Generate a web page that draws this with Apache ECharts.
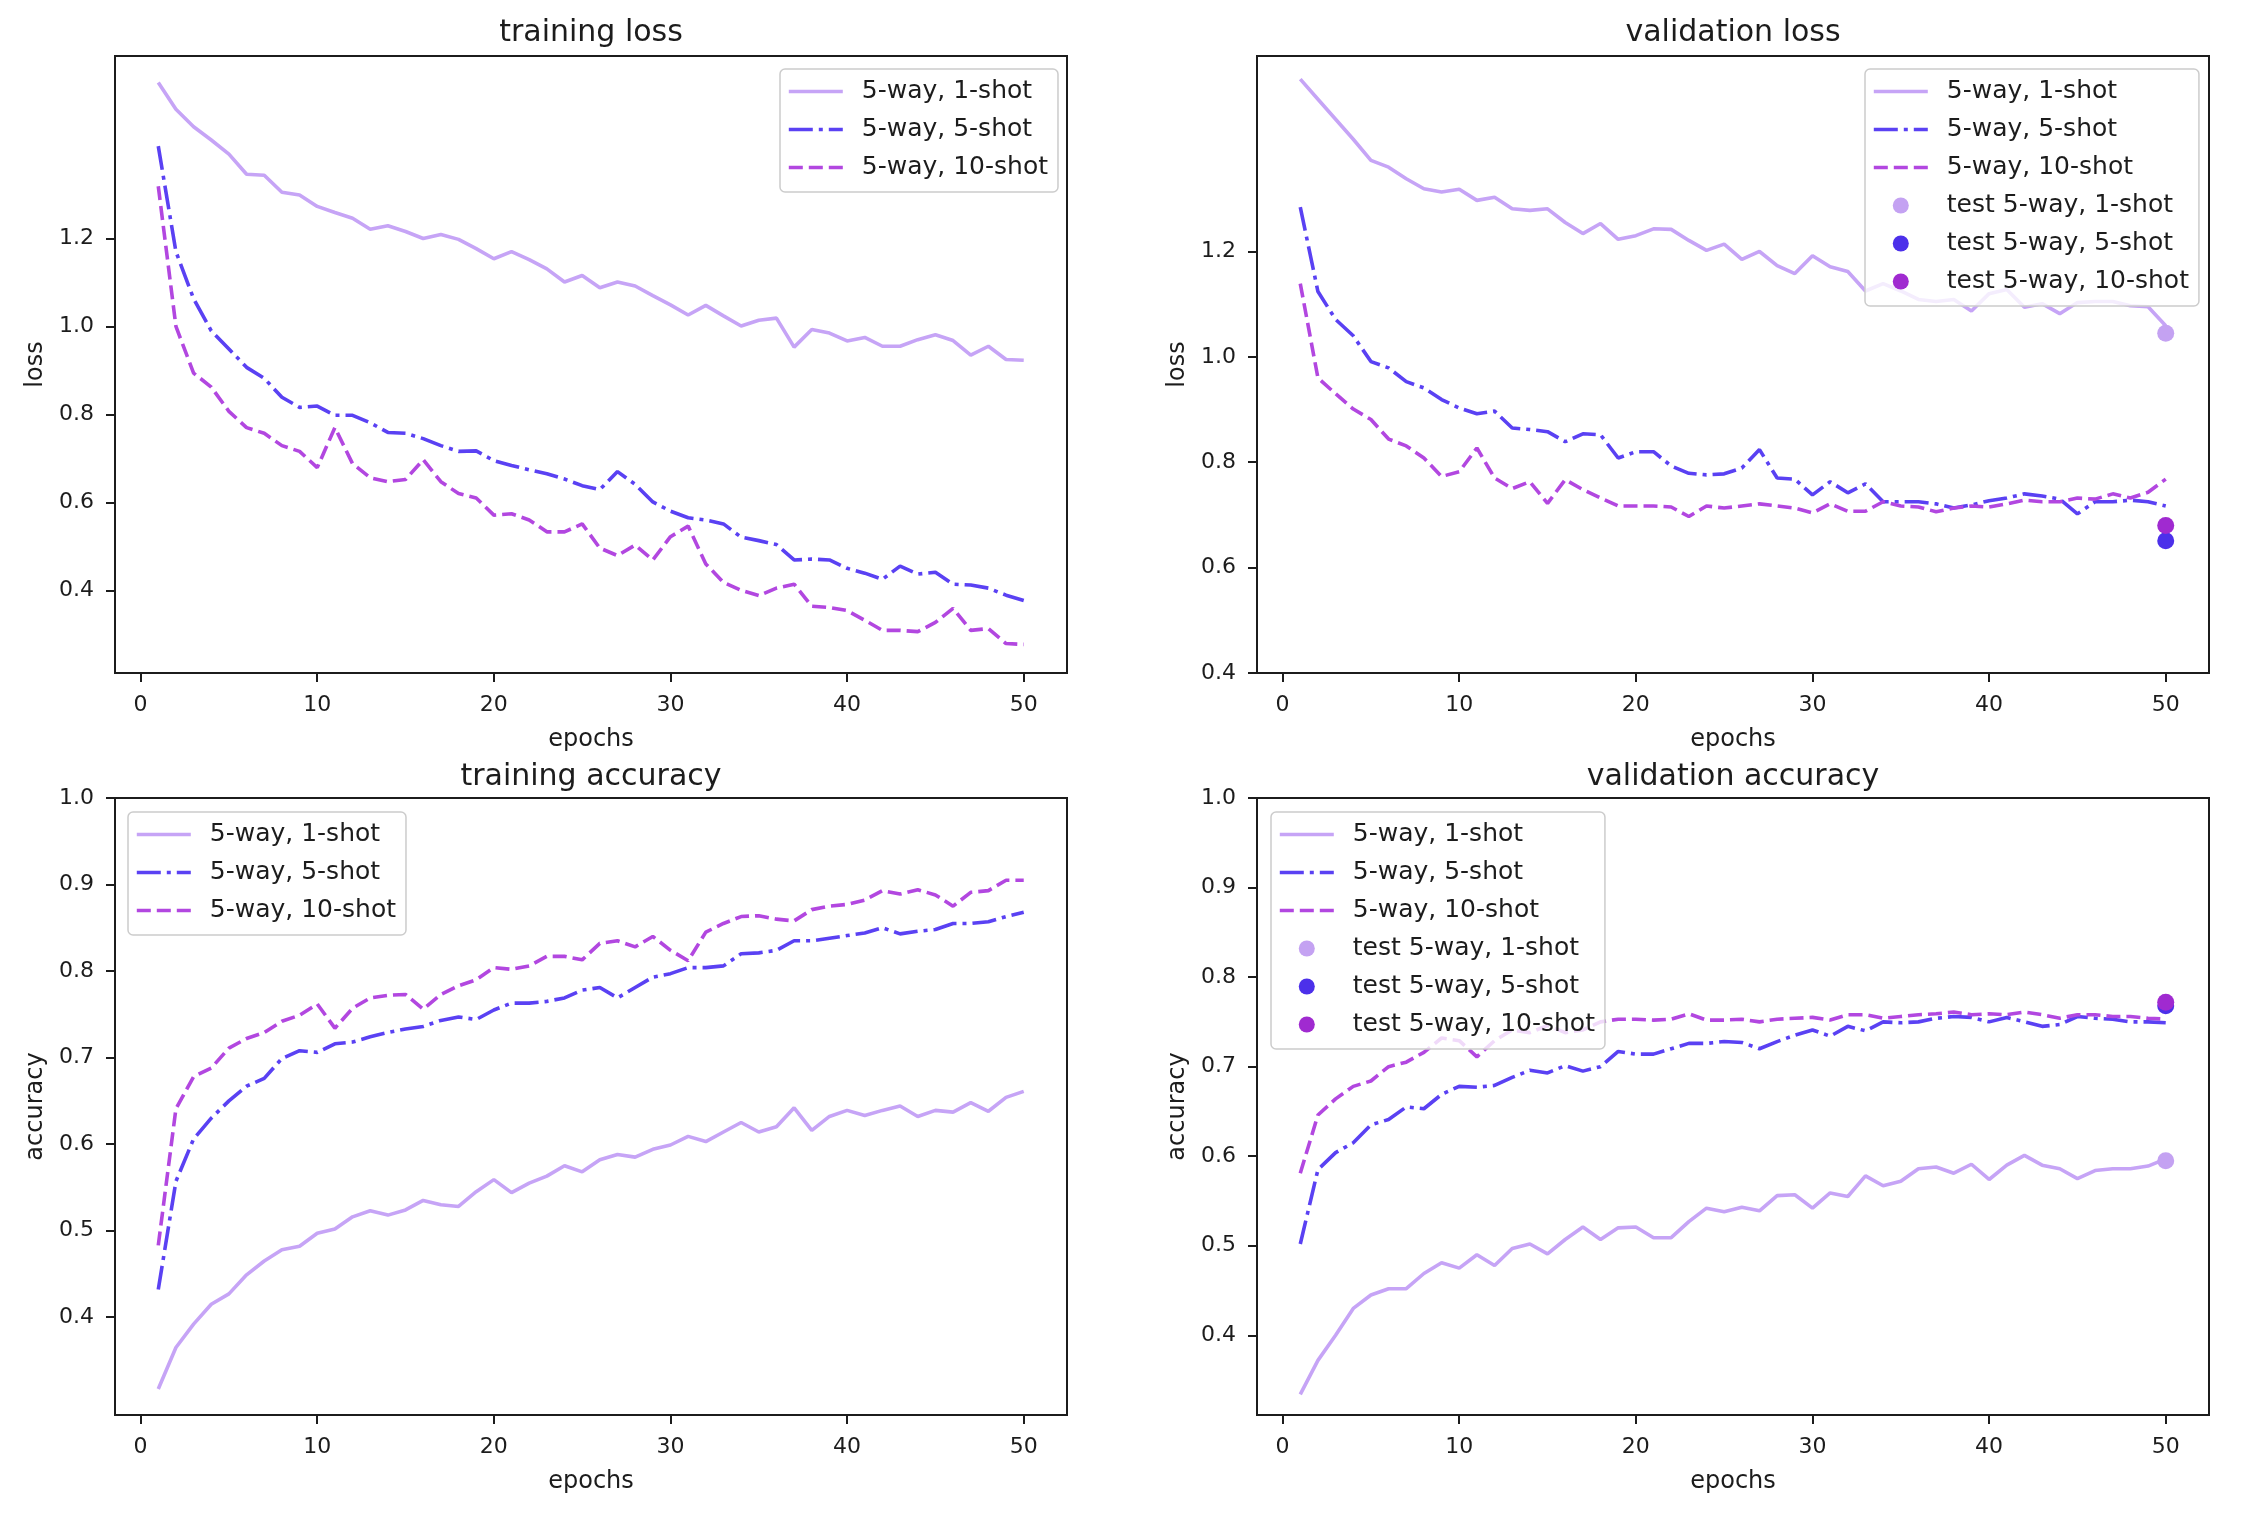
<!DOCTYPE html>
<html>
<head>
<meta charset="utf-8">
<script src="https://cdn.jsdelivr.net/npm/echarts@6/dist/echarts.min.js"></script>
<style>
html,body{margin:0;padding:0;background:#fff;}
#c{width:2244px;height:1526px;}
</style>
</head>
<body>
<div id="c"></div>
<script>
// ---------------- data ----------------
const epochs = [1,2,3,4,5,6,7,8,9,10,11,12,13,14,15,16,17,18,19,20,21,22,23,24,25,26,27,28,29,30,31,32,33,34,35,36,37,38,39,40,41,42,43,44,45,46,47,48,49,50];

const trainLoss1 = [1.555,1.494,1.454,1.424,1.392,1.346,1.344,1.305,1.299,1.273,1.259,1.246,1.221,1.229,1.216,1.200,1.209,1.198,1.177,1.154,1.170,1.152,1.131,1.101,1.116,1.088,1.101,1.092,1.070,1.049,1.026,1.048,1.024,1.001,1.014,1.019,0.953,0.993,0.985,0.967,0.975,0.955,0.955,0.970,0.981,0.968,0.935,0.955,0.925,0.923];
const trainLoss5 = [1.410,1.170,1.063,0.990,0.949,0.907,0.882,0.839,0.816,0.819,0.798,0.798,0.781,0.759,0.757,0.745,0.729,0.716,0.717,0.695,0.684,0.674,0.665,0.653,0.638,0.629,0.670,0.641,0.601,0.580,0.565,0.560,0.551,0.521,0.513,0.504,0.469,0.471,0.469,0.450,0.439,0.425,0.455,0.437,0.441,0.414,0.412,0.405,0.389,0.377];
const trainLoss10 = [1.319,1.000,0.894,0.862,0.807,0.770,0.757,0.729,0.716,0.679,0.770,0.688,0.656,0.647,0.652,0.697,0.647,0.620,0.610,0.571,0.574,0.560,0.533,0.533,0.551,0.496,0.479,0.503,0.469,0.522,0.546,0.460,0.418,0.400,0.388,0.405,0.414,0.364,0.361,0.354,0.332,0.309,0.309,0.306,0.327,0.359,0.309,0.313,0.279,0.277];

const valLoss1 = [1.527,1.489,1.451,1.413,1.373,1.360,1.338,1.319,1.313,1.318,1.297,1.303,1.281,1.278,1.281,1.255,1.234,1.253,1.223,1.230,1.243,1.242,1.221,1.202,1.214,1.185,1.200,1.173,1.158,1.192,1.171,1.162,1.125,1.139,1.125,1.109,1.105,1.109,1.087,1.120,1.128,1.094,1.101,1.082,1.103,1.105,1.105,1.097,1.095,1.059];
const valLoss5 = [1.284,1.124,1.071,1.040,0.991,0.979,0.953,0.941,0.919,0.903,0.892,0.897,0.865,0.862,0.858,0.839,0.854,0.852,0.808,0.820,0.820,0.793,0.779,0.776,0.778,0.789,0.824,0.770,0.768,0.738,0.763,0.742,0.759,0.725,0.725,0.725,0.721,0.713,0.719,0.727,0.732,0.740,0.736,0.730,0.702,0.725,0.725,0.728,0.725,0.717];
const valLoss10 = [1.139,0.960,0.930,0.901,0.881,0.844,0.831,0.808,0.773,0.782,0.827,0.770,0.750,0.763,0.722,0.767,0.748,0.732,0.717,0.717,0.717,0.715,0.697,0.717,0.713,0.717,0.721,0.717,0.713,0.704,0.721,0.707,0.707,0.725,0.717,0.715,0.706,0.713,0.717,0.715,0.721,0.728,0.725,0.725,0.732,0.730,0.740,0.732,0.743,0.768];
const valLossTest = [1.045, 0.651, 0.680];

const trainAcc1 = [0.317,0.365,0.392,0.415,0.427,0.449,0.465,0.478,0.482,0.497,0.502,0.516,0.523,0.518,0.524,0.535,0.530,0.528,0.545,0.559,0.544,0.555,0.563,0.575,0.568,0.582,0.588,0.585,0.594,0.599,0.609,0.603,0.614,0.625,0.614,0.620,0.642,0.616,0.632,0.639,0.633,0.639,0.644,0.632,0.639,0.637,0.648,0.638,0.654,0.661];
const trainAcc5 = [0.432,0.557,0.606,0.630,0.650,0.667,0.676,0.699,0.708,0.706,0.716,0.718,0.724,0.729,0.733,0.736,0.743,0.747,0.744,0.755,0.763,0.763,0.765,0.769,0.778,0.781,0.769,0.781,0.793,0.797,0.804,0.804,0.806,0.820,0.821,0.824,0.835,0.835,0.838,0.841,0.844,0.850,0.843,0.846,0.848,0.855,0.855,0.857,0.863,0.868];
const trainAcc10 = [0.483,0.641,0.678,0.688,0.711,0.722,0.729,0.742,0.749,0.762,0.734,0.757,0.769,0.772,0.773,0.756,0.773,0.783,0.790,0.804,0.802,0.806,0.817,0.817,0.813,0.832,0.835,0.828,0.840,0.824,0.812,0.845,0.855,0.863,0.864,0.860,0.858,0.871,0.875,0.877,0.882,0.893,0.889,0.894,0.888,0.875,0.891,0.893,0.905,0.905];

const valAcc1 = [0.334,0.372,0.400,0.430,0.445,0.452,0.452,0.469,0.481,0.475,0.490,0.478,0.497,0.502,0.491,0.507,0.521,0.507,0.520,0.521,0.509,0.509,0.527,0.542,0.538,0.543,0.539,0.556,0.557,0.542,0.559,0.555,0.578,0.567,0.572,0.586,0.588,0.581,0.591,0.574,0.590,0.601,0.590,0.586,0.575,0.584,0.586,0.586,0.589,0.597];
const valAcc5 = [0.502,0.585,0.604,0.615,0.635,0.641,0.655,0.653,0.669,0.678,0.677,0.679,0.688,0.696,0.693,0.701,0.695,0.700,0.717,0.714,0.714,0.720,0.726,0.726,0.728,0.727,0.720,0.728,0.735,0.741,0.734,0.745,0.740,0.750,0.749,0.750,0.754,0.756,0.755,0.750,0.755,0.750,0.745,0.747,0.756,0.754,0.753,0.750,0.750,0.749];
const valAcc10 = [0.581,0.646,0.664,0.678,0.684,0.700,0.705,0.716,0.732,0.729,0.711,0.729,0.741,0.738,0.746,0.738,0.741,0.750,0.753,0.753,0.752,0.753,0.759,0.752,0.752,0.753,0.750,0.753,0.754,0.755,0.752,0.758,0.758,0.754,0.756,0.758,0.759,0.761,0.758,0.759,0.758,0.761,0.758,0.754,0.758,0.758,0.756,0.756,0.754,0.753];
const valAccTest = [0.595, 0.768, 0.772];

const testEpoch = 50;
const seriesNames = ['5-way, 1-shot', '5-way, 5-shot', '5-way, 10-shot'];
const testNames = ['test 5-way, 1-shot', 'test 5-way, 5-shot', 'test 5-way, 10-shot'];
const xTicks = [0, 10, 20, 30, 40, 50];
const lossTicks = [0.4, 0.6, 0.8, 1.0, 1.2];
const accTicks = [0.4, 0.5, 0.6, 0.7, 0.8, 0.9, 1.0];

// ---------------- style ----------------
const FONT = 'DejaVu Sans';
const INK = '#1c1c1c';
const LINE_COLORS = ['#c6a4f6', '#5a41f3', '#b247e0'];
const DOT_COLORS = ['#c4a2f2', '#4c30ea', '#a02ad0'];
const LW = 3.6;
const DASHES = ['solid', [24, 6, 4, 6], [14, 6]];

const panels = [
  { title: 'training loss', ylabel: 'loss', lines: [trainLoss1, trainLoss5, trainLoss10], test: null,
    ymin: 0.212, ymax: 1.615, yticks: lossTicks,
    grid: { left: 115, top: 56, width: 952, height: 617 }, titleTop: 18, legendPos: { left: 780, top: 69 } },
  { title: 'validation loss', ylabel: 'loss', lines: [valLoss1, valLoss5, valLoss10], test: valLossTest,
    ymin: 0.4, ymax: 1.571, yticks: lossTicks,
    grid: { left: 1257, top: 56, width: 952, height: 617 }, titleTop: 18, legendPos: { left: 1865, top: 69 } },
  { title: 'training accuracy', ylabel: 'accuracy', lines: [trainAcc1, trainAcc5, trainAcc10], test: null,
    ymin: 0.287, ymax: 1.0, yticks: accTicks,
    grid: { left: 115, top: 798, width: 952, height: 617 }, titleTop: 762, legendPos: { left: 128, top: 812 } },
  { title: 'validation accuracy', ylabel: 'accuracy', lines: [valAcc1, valAcc5, valAcc10], test: valAccTest,
    ymin: 0.311, ymax: 1.0, yticks: accTicks,
    grid: { left: 1257, top: 798, width: 952, height: 617 }, titleTop: 762, legendPos: { left: 1271, top: 812 } }
];

const option = {
  animation: false,
  backgroundColor: '#ffffff',
  textStyle: { fontFamily: FONT },
  grid: [], xAxis: [], yAxis: [], title: [], legend: [], series: []
};

panels.forEach((p, i) => {
  option.grid.push(Object.assign({ show: true, borderColor: INK, borderWidth: 2, backgroundColor: 'transparent' }, p.grid));
  option.title.push({
    text: p.title, left: p.grid.left + p.grid.width / 2, top: p.titleTop, textAlign: 'center', padding: 0,
    textStyle: { fontFamily: FONT, fontSize: 30, fontWeight: 'normal', color: INK, lineHeight: 30 }
  });
  option.xAxis.push({
    type: 'value', gridIndex: i, min: -1.45, max: 52.45,
    name: 'epochs', nameLocation: 'middle', nameGap: 55,
    nameTextStyle: { fontFamily: FONT, fontSize: 24, color: INK, lineHeight: 24 },
    axisLine: { show: true, onZero: false, lineStyle: { color: INK, width: 2 } },
    axisTick: { show: true, customValues: xTicks, length: 9, lineStyle: { color: INK, width: 2 } },
    axisLabel: { customValues: xTicks, margin: 21, fontFamily: FONT, fontSize: 22, color: INK, lineHeight: 22 },
    splitLine: { show: false }
  });
  option.yAxis.push({
    type: 'value', gridIndex: i, min: p.ymin, max: p.ymax,
    name: p.ylabel, nameLocation: 'middle', nameGap: 67, nameRotate: 90,
    nameTextStyle: { fontFamily: FONT, fontSize: 24, color: INK, lineHeight: 24 },
    axisLine: { show: true, onZero: false, lineStyle: { color: INK, width: 2 } },
    axisTick: { show: true, customValues: p.yticks, length: 9, lineStyle: { color: INK, width: 2 } },
    axisLabel: { customValues: p.yticks, margin: 21, fontFamily: FONT, fontSize: 22, color: INK,
      formatter: v => Number(v).toFixed(1) },
    splitLine: { show: false }
  });
  // legend entries: line entries hide the centre symbol, keep only the dashed stroke
  const legendData = seriesNames.map(n => ({ name: n, itemStyle: { opacity: 0 } }));
  p.lines.forEach((vals, k) => {
    option.series.push({
      type: 'line', name: seriesNames[k], xAxisIndex: i, yAxisIndex: i,
      data: epochs.map((e, j) => [e, vals[j]]),
      symbol: 'none', z: 2,
      lineStyle: { color: LINE_COLORS[k], width: LW, type: DASHES[k] },
      itemStyle: { color: LINE_COLORS[k] }
    });
  });
  if (p.test) {
    p.test.forEach((v, k) => {
      option.series.push({
        type: 'scatter', name: testNames[k], xAxisIndex: i, yAxisIndex: i,
        data: [[testEpoch, v]], symbol: 'circle', symbolSize: 17, z: 3,
        itemStyle: { color: DOT_COLORS[k], opacity: 1 }
      });
      legendData.push({ name: testNames[k] });
    });
  }
  option.legend.push({
    data: legendData, orient: 'vertical', left: p.legendPos.left, top: p.legendPos.top,
    itemWidth: 54, itemHeight: 16, itemGap: 13,
    padding: [10, 10, 12, 7],
    backgroundColor: 'rgba(255,255,255,0.8)', borderColor: '#cccccc', borderWidth: 1.5, borderRadius: 5,
    selectedMode: false,
    lineStyle: { width: LW },
    textStyle: { fontFamily: FONT, fontSize: 25, color: INK, lineHeight: 24, padding: [0, 0, 0, 14] }
  });
});

const chart = echarts.init(document.getElementById('c'), null, { renderer: 'canvas' });
chart.setOption(option);
</script>
</body>
</html>
